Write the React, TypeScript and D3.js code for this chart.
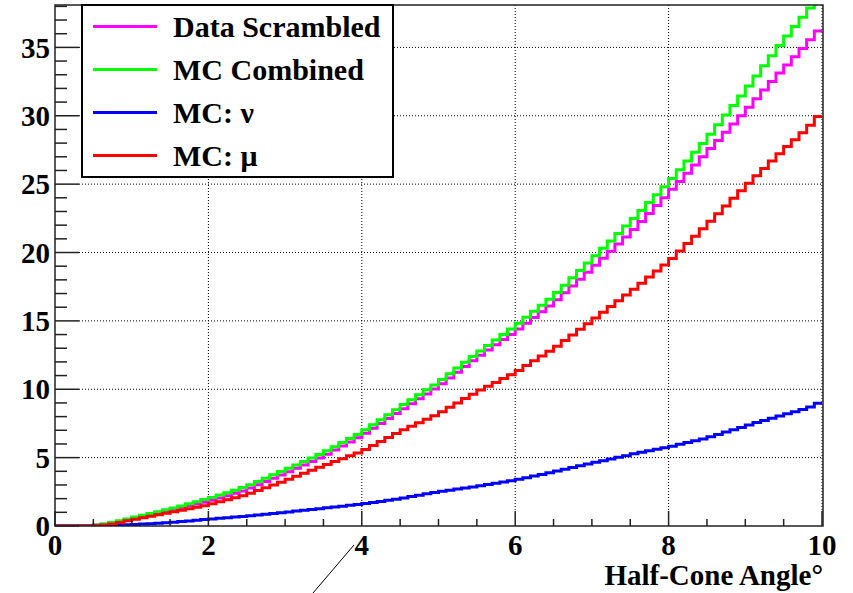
import * as d3 from "d3";
import React from "react";

// cumulative counts per 0.1 deg bin (bin i starts at i*0.1)
const binWidth = 0.1;

const dataScrambled = [
  0, 0, 0, 0, 0.02, 0.07, 0.13, 0.22, 0.33, 0.45,
  0.57, 0.7, 0.83, 0.96, 1.09, 1.22, 1.35, 1.48, 1.61, 1.74,
  1.88, 2.05, 2.22, 2.39, 2.56, 2.77, 3.01, 3.25, 3.49, 3.73,
  3.97, 4.22, 4.47, 4.72, 4.97, 5.25, 5.55, 5.85, 6.15, 6.45,
  6.78, 7.14, 7.5, 7.86, 8.22, 8.58, 8.94, 9.3, 9.66, 10.02,
  10.41, 10.83, 11.25, 11.67, 12.09, 12.49, 12.87, 13.25, 13.63, 14.01,
  14.41, 14.83, 15.25, 15.67, 16.09, 16.55, 17.05, 17.55, 18.05, 18.55,
  19.06, 19.58, 20.1, 20.62, 21.14, 21.69, 22.27, 22.85, 23.43, 24.01,
  24.62, 25.2, 25.8, 26.4, 27.0, 27.6, 28.2, 28.8, 29.4, 30.0,
  30.62, 31.25, 31.88, 32.5, 33.12, 33.72, 34.32, 34.92, 35.55, 36.2,
];

const mcCombined = [
  0, 0, 0, 0, 0.02, 0.08, 0.15, 0.25, 0.38, 0.52,
  0.66, 0.79, 0.92, 1.05, 1.19, 1.32, 1.47, 1.62, 1.78, 1.93,
  2.08, 2.26, 2.44, 2.62, 2.81, 3.02, 3.26, 3.5, 3.74, 3.98,
  4.22, 4.47, 4.72, 4.97, 5.22, 5.5, 5.8, 6.1, 6.4, 6.7,
  7.03, 7.4, 7.77, 8.14, 8.51, 8.88, 9.24, 9.6, 9.96, 10.32,
  10.71, 11.13, 11.55, 11.97, 12.39, 12.8, 13.2, 13.6, 14.0, 14.4,
  14.82, 15.26, 15.7, 16.14, 16.58, 17.07, 17.61, 18.15, 18.69, 19.23,
  19.77, 20.31, 20.85, 21.39, 21.93, 22.49, 23.07, 23.65, 24.23, 24.81,
  25.42, 26.06, 26.7, 27.34, 27.98, 28.65, 29.35, 30.05, 30.75, 31.45,
  32.17, 32.91, 33.65, 34.39, 35.13, 35.84, 36.52, 37.2, 37.88, 38.56,
];

const mcNu = [
  0, 0, 0, 0, 0, 0, 0.01, 0.03, 0.06, 0.09,
  0.11, 0.14, 0.17, 0.2, 0.23, 0.27, 0.32, 0.37, 0.42, 0.47,
  0.52, 0.56, 0.61, 0.65, 0.7, 0.75, 0.8, 0.86, 0.92, 0.97,
  1.03, 1.09, 1.15, 1.21, 1.27, 1.33, 1.39, 1.45, 1.51, 1.57,
  1.64, 1.72, 1.8, 1.88, 1.96, 2.05, 2.15, 2.25, 2.35, 2.45,
  2.54, 2.62, 2.7, 2.78, 2.86, 2.95, 3.04, 3.13, 3.22, 3.31,
  3.41, 3.53, 3.65, 3.77, 3.89, 4.02, 4.15, 4.28, 4.41, 4.54,
  4.66, 4.78, 4.9, 5.02, 5.14, 5.28, 5.39, 5.5, 5.61, 5.72,
  5.84, 5.97, 6.1, 6.23, 6.36, 6.53, 6.7, 6.87, 7.04, 7.21,
  7.39, 7.56, 7.72, 7.88, 8.04, 8.2, 8.36, 8.52, 8.7, 8.98,
];

const mcMu = [
  0, 0, 0, 0, 0, 0.02, 0.07, 0.15, 0.26, 0.39,
  0.5, 0.61, 0.72, 0.83, 0.94, 1.05, 1.16, 1.27, 1.38, 1.49,
  1.62, 1.77, 1.92, 2.07, 2.22, 2.4, 2.6, 2.8, 3.0, 3.2,
  3.41, 3.63, 3.85, 4.07, 4.29, 4.5, 4.71, 4.92, 5.13, 5.34,
  5.6, 5.89, 6.18, 6.47, 6.76, 7.03, 7.29, 7.55, 7.81, 8.07,
  8.36, 8.68, 9.0, 9.32, 9.64, 9.94, 10.22, 10.5, 10.78, 11.06,
  11.38, 11.73, 12.08, 12.43, 12.78, 13.15, 13.56, 13.97, 14.38, 14.79,
  15.21, 15.63, 16.05, 16.47, 16.89, 17.32, 17.76, 18.2, 18.64, 19.08,
  19.57, 20.11, 20.65, 21.19, 21.73, 22.28, 22.84, 23.4, 23.96, 24.52,
  25.07, 25.61, 26.15, 26.69, 27.23, 27.75, 28.25, 28.75, 29.3, 29.95,
];

// draw order: last one on top
const seriesNames = ["Data Scrambled", "MC Combined", "MC: \u03bd", "MC: \u03bc"];
const seriesColors = ["#ff00ff", "#00ff00", "#0000ff", "#ff0000"];
const seriesValues = [dataScrambled, mcCombined, mcNu, mcMu];
const drawOrder = [0, 1, 2, 3];

const xTicks = [0, 2, 4, 6, 8, 10];
const yTicks = [0, 5, 10, 15, 20, 25, 30, 35];
const xTitle = "Half-Cone Angle\u00b0";

export default function App() {
  const width = 853;
  const height = 593;
  const left = 55;
  const right = 822;
  const top = 5;
  const bottom = 526;
  const font = '"Liberation Serif", "Times New Roman", Times, "DejaVu Serif", serif';

  const x = d3.scaleLinear().domain([0, 10]).range([left, right]);
  const y = d3.scaleLinear().domain([0, 38.1]).range([bottom, top]);

  const line = d3
    .line<[number, number]>()
    .x((d) => x(d[0]))
    .y((d) => y(d[1]))
    .curve(d3.curveStepAfter);

  const toPoints = (vals: number[]): [number, number][] => {
    const pts: [number, number][] = vals.map((v, i) => [i * binWidth, v]);
    pts.push([vals.length * binWidth, vals[vals.length - 1]]);
    return pts;
  };

  const xMinor = d3.range(0, 10.001, 0.5);
  const yMinor = d3.range(0, 38.001, 1);

  // legend box
  const lgX0 = 82;
  const lgX1 = 393;
  const lgY0 = 5;
  const lgY1 = 177;
  const rowH = (lgY1 - lgY0) / seriesNames.length;

  const textStyle = { fontFamily: font, fontWeight: 700 } as React.CSSProperties;

  return (
    <svg
      width={width}
      height={height}
      style={{ position: "absolute", left: 0, top: 0, background: "#fff" }}
    >
      <defs>
        <clipPath id="frame">
          <rect x={left} y={top} width={right - left + 1} height={bottom - top} />
        </clipPath>
      </defs>

      {/* grid */}
      <g stroke="#000" strokeWidth={1} strokeDasharray="1,2">
        {xTicks.slice(1).map((t) => (
          <line key={"gx" + t} x1={x(t)} x2={x(t)} y1={top} y2={bottom - 15} />
        ))}
        {yTicks.slice(1).map((t) => (
          <line key={"gy" + t} x1={left + 24} x2={right + 1} y1={y(t)} y2={y(t)} />
        ))}
      </g>

      {/* histograms */}
      <g clipPath="url(#frame)" fill="none" strokeWidth={3}>
        {drawOrder.map((k) => (
          <path key={k} d={line(toPoints(seriesValues[k])) || ""} stroke={seriesColors[k]} />
        ))}
      </g>

      {/* frame */}
      <rect
        x={left}
        y={top}
        width={right - left + 1}
        height={bottom - top}
        fill="none"
        stroke="#222"
        strokeWidth={1.5}
      />

      {/* ticks */}
      <g stroke="#222" strokeWidth={1.5}>
        {xMinor.map((t) => {
          const major = Math.abs(t % 2) < 1e-6;
          return (
            <line key={"xt" + t} x1={x(t)} x2={x(t)} y1={bottom} y2={bottom - (major ? 15 : 7)} />
          );
        })}
        {yMinor.map((t) => {
          const major = Math.abs(t % 5) < 1e-6;
          return (
            <line key={"yt" + t} x1={left} x2={left + (major ? 24 : 12)} y1={y(t)} y2={y(t)} />
          );
        })}
      </g>

      {/* tick labels */}
      <g style={{ ...textStyle, fontSize: 29 }} fill="#000">
        {xTicks.map((t) => (
          <text key={"xl" + t} x={x(t)} y={555} textAnchor="middle">
            {t}
          </text>
        ))}
        {yTicks.map((t) => (
          <text key={"yl" + t} x={50} y={y(t)} dy="0.35em" textAnchor="end">
            {t}
          </text>
        ))}
        <text x={823} y={585} textAnchor="end">
          {xTitle}
        </text>
      </g>

      {/* legend */}
      <rect
        x={lgX0}
        y={lgY0}
        width={lgX1 - lgX0}
        height={lgY1 - lgY0}
        fill="#fff"
        stroke="#000"
        strokeWidth={2}
      />
      <g style={{ ...textStyle, fontSize: 30 }} fill="#000">
        {seriesNames.map((name, i) => {
          const cy = lgY0 + rowH * (i + 0.5);
          return (
            <g key={name}>
              <line x1={93} x2={157} y1={cy} y2={cy} stroke={seriesColors[i]} strokeWidth={3} />
              <text x={173} y={cy} dy="0.35em">
                {name}
              </text>
            </g>
          );
        })}
      </g>

      {/* stray pointer line from the original figure */}
      <line x1={313} y1={593} x2={354} y2={545} stroke="#000" strokeWidth={1} />
    </svg>
  );
}
